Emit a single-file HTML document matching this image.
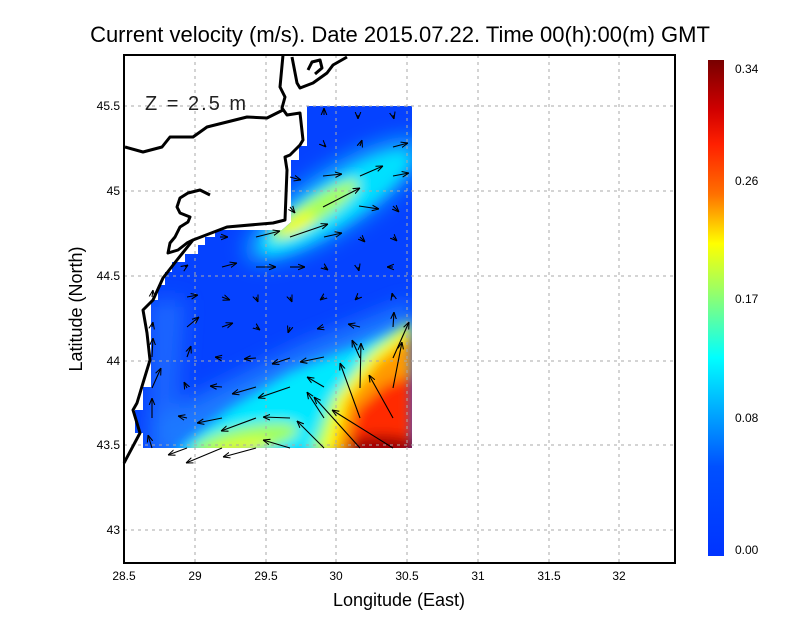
<!DOCTYPE html>
<html><head><style>
body{margin:0;background:#fff;}
svg{display:block;font-family:"Liberation Sans",sans-serif;}
</style></head><body>
<svg width="800" height="618" viewBox="0 0 800 618" xmlns="http://www.w3.org/2000/svg">
<defs>
<filter id="b1" x="-50%" y="-50%" width="200%" height="200%"><feGaussianBlur stdDeviation="10"/></filter>
<filter id="b2" x="-50%" y="-50%" width="200%" height="200%"><feGaussianBlur stdDeviation="6"/></filter>
<clipPath id="dc"><polygon points="307,106 412,106 412,448 143,448 143,433 135,433 135,410 143,410 143,387 151,387 151,300 158,300 158,285 165,285 165,272 172,272 172,262 185,262 185,254 198,254 198,245 205,245 205,237 215,237 215,230 282,230 291,222 291,160 299,160 299,146 307,146"/></clipPath>
<linearGradient id="cb" x1="0" y1="0" x2="0" y2="1">
<stop offset="0" stop-color="#780000"/><stop offset="0.1" stop-color="#d00000"/><stop offset="0.17" stop-color="#ff2000"/><stop offset="0.27" stop-color="#ff7000"/><stop offset="0.37" stop-color="#ffff00"/><stop offset="0.46" stop-color="#a0ff60"/><stop offset="0.6" stop-color="#00ffff"/><stop offset="0.72" stop-color="#00a0ff"/><stop offset="0.82" stop-color="#0050ff"/><stop offset="1" stop-color="#0033ff"/>
</linearGradient>
<marker id="ah" viewBox="0 0 10 10" refX="10" refY="5" markerWidth="7" markerHeight="7" orient="auto" markerUnits="userSpaceOnUse"><path d="M0,1 L10,5 L0,9" fill="none" stroke="#000" stroke-width="1.5"/></marker>
</defs>
<text x="400" y="42" text-anchor="middle" font-size="22">Current velocity (m/s). Date 2015.07.22. Time 00(h):00(m) GMT</text>
<g clip-path="url(#dc)">
<rect x="130" y="100" width="290" height="360" fill="#0542ff"/>
<g filter="url(#b1)">
<polygon points="150,300 185,300 175,450 150,450" fill="#2070ff" opacity="0.8"/>
<polygon points="150,455 150,420 230,380 300,345 412,300 412,455" fill="#1a78ff"/>
<ellipse cx="335" cy="200" rx="105" ry="32" transform="rotate(-33 335 200)" fill="#10a0ff"/>
</g>
<g filter="url(#b2)">
<polygon points="170,455 230,408 290,372 360,345 412,322 412,455" fill="#00e8ff"/>
<ellipse cx="335" cy="203" rx="88" ry="22" transform="rotate(-33 335 203)" fill="#00e0ff"/>
<ellipse cx="315" cy="210" rx="52" ry="12" transform="rotate(-33 315 210)" fill="#a8ff58"/>
<ellipse cx="297" cy="224" rx="20" ry="8" transform="rotate(-30 297 224)" fill="#f0ff10"/>
<ellipse cx="245" cy="440" rx="55" ry="14" transform="rotate(-12 245 440)" fill="#a0ff60"/>
<ellipse cx="240" cy="447" rx="30" ry="6" transform="rotate(-10 240 447)" fill="#e8ff20"/>
<polygon points="308,455 330,400 370,350 412,318 412,455" fill="#90ff70"/>
<polygon points="320,455 338,398 372,355 412,325 412,455" fill="#ffff00"/>
<polygon points="333,455 347,400 377,362 412,335 412,455" fill="#ff9a00"/>
<polygon points="345,455 357,410 385,385 412,375 412,455" fill="#ff2a00"/>
<ellipse cx="382" cy="447" rx="35" ry="12" fill="#a00000"/>
</g>
</g>
<g stroke="#aaa" stroke-width="1" stroke-dasharray="3,4">
<line x1="195" y1="55" x2="195" y2="563"/><line x1="266" y1="55" x2="266" y2="563"/><line x1="336" y1="55" x2="336" y2="563"/><line x1="407" y1="55" x2="407" y2="563"/><line x1="478" y1="55" x2="478" y2="563"/><line x1="549" y1="55" x2="549" y2="563"/><line x1="619" y1="55" x2="619" y2="563"/>
<line x1="124" y1="106" x2="675" y2="106"/><line x1="124" y1="191" x2="675" y2="191"/><line x1="124" y1="276" x2="675" y2="276"/><line x1="124" y1="361" x2="675" y2="361"/><line x1="124" y1="445" x2="675" y2="445"/><line x1="124" y1="530" x2="675" y2="530"/>
</g>
<g fill="none" stroke="#000" stroke-width="3" stroke-linejoin="round">
<polyline points="283,55 280,87 285,97 282,108 287,115 300,113 303,140 300,145 290,155 285,157 287,170 285,220 273,223 227,227 193,240 177,260 163,278 153,300 143,310 147,333 150,360 143,383 137,403 133,410 140,433 124,463"/>
<polyline points="283,110 267,118 247,117 227,122 207,127 193,137 170,137 162,147 143,152 125,147"/>
<polyline points="210,195 200,190 188,193 180,198 177,207 180,213 190,217 188,222 180,227 175,237 170,243 168,253 178,250 187,243 193,240"/>
<polyline points="292,57 297,83 300,88 313,83 327,73 333,65 347,57"/>
<polyline points="308,70 312,62 320,60 322,68 315,74"/>
</g>
<g stroke="#000" stroke-width="1.1" marker-end="url(#ah)">
<line x1="324" y1="115" x2="324" y2="108"/><line x1="358" y1="115" x2="358" y2="119"/><line x1="393" y1="115" x2="394" y2="119"/>
<line x1="324" y1="145" x2="326" y2="147"/><line x1="360" y1="146" x2="362" y2="140"/><line x1="393" y1="147" x2="408" y2="143"/>
<line x1="290" y1="177" x2="301" y2="180"/><line x1="323" y1="176" x2="342" y2="174"/><line x1="360" y1="176" x2="383" y2="166"/><line x1="393" y1="176" x2="409" y2="173"/>
<line x1="290" y1="207" x2="295" y2="213"/><line x1="323" y1="207" x2="360" y2="188"/><line x1="359" y1="206" x2="379" y2="209"/><line x1="393" y1="206" x2="399" y2="212"/>
<line x1="220" y1="237" x2="228" y2="237"/><line x1="256" y1="237" x2="280" y2="231"/><line x1="290" y1="237" x2="328" y2="224"/><line x1="324" y1="237" x2="342" y2="233"/><line x1="360" y1="237" x2="365" y2="242"/><line x1="393" y1="237" x2="397" y2="241"/>
<line x1="185" y1="267" x2="188" y2="265"/><line x1="222" y1="267" x2="237" y2="263"/><line x1="256" y1="267" x2="276" y2="267"/><line x1="290" y1="267" x2="305" y2="267"/><line x1="324" y1="267" x2="328" y2="270"/><line x1="358" y1="267" x2="359" y2="271"/><line x1="393" y1="267" x2="387" y2="267"/>
<line x1="152" y1="297" x2="153" y2="290"/><line x1="187" y1="297" x2="198" y2="295"/><line x1="222" y1="297" x2="230" y2="300"/><line x1="256" y1="297" x2="258" y2="302"/><line x1="290" y1="297" x2="292" y2="302"/><line x1="324" y1="297" x2="320" y2="300"/><line x1="358" y1="297" x2="355" y2="300"/><line x1="393" y1="297" x2="392" y2="293"/>
<line x1="152" y1="327" x2="153" y2="322"/><line x1="187" y1="327" x2="199" y2="317"/><line x1="222" y1="327" x2="233" y2="323"/><line x1="256" y1="327" x2="260" y2="330"/><line x1="290" y1="327" x2="288" y2="333"/><line x1="324" y1="327" x2="317" y2="329"/><line x1="360" y1="327" x2="348" y2="324"/><line x1="393" y1="327" x2="394" y2="312"/>
<line x1="152" y1="357" x2="153" y2="338"/><line x1="187" y1="357" x2="191" y2="346"/><line x1="222" y1="358" x2="215" y2="357"/><line x1="256" y1="358" x2="244" y2="359"/><line x1="290" y1="358" x2="272" y2="364"/><line x1="324" y1="357" x2="300" y2="362"/><line x1="360" y1="358" x2="352" y2="340"/><line x1="393" y1="358" x2="409" y2="322"/>
<line x1="152" y1="388" x2="161" y2="368"/><line x1="187" y1="388" x2="184" y2="382"/><line x1="222" y1="387" x2="210" y2="386"/><line x1="256" y1="387" x2="232" y2="394"/><line x1="290" y1="387" x2="258" y2="398"/><line x1="324" y1="387" x2="307" y2="377"/><line x1="360" y1="388" x2="361" y2="343"/><line x1="393" y1="388" x2="402" y2="342"/>
<line x1="152" y1="418" x2="152" y2="398"/><line x1="187" y1="418" x2="178" y2="416"/><line x1="222" y1="418" x2="197" y2="423"/><line x1="256" y1="418" x2="221" y2="431"/><line x1="290" y1="418" x2="263" y2="417"/><line x1="324" y1="418" x2="307" y2="392"/><line x1="360" y1="418" x2="340" y2="363"/><line x1="393" y1="418" x2="369" y2="375"/>
<line x1="152" y1="448" x2="148" y2="435"/><line x1="187" y1="448" x2="168" y2="455"/><line x1="222" y1="448" x2="186" y2="463"/><line x1="256" y1="448" x2="223" y2="457"/><line x1="290" y1="448" x2="263" y2="440"/><line x1="324" y1="448" x2="297" y2="421"/><line x1="360" y1="448" x2="314" y2="397"/><line x1="393" y1="448" x2="332" y2="410"/>
</g>
<text x="145" y="110" font-size="20" fill="#222" letter-spacing="2">Z = 2.5 m</text>
<rect x="124" y="55" width="551" height="508" fill="none" stroke="#000" stroke-width="2"/>
<g font-size="12" text-anchor="middle">
<text x="124" y="580">28.5</text><text x="195" y="580">29</text><text x="266" y="580">29.5</text><text x="336" y="580">30</text><text x="407" y="580">30.5</text><text x="478" y="580">31</text><text x="549" y="580">31.5</text><text x="619" y="580">32</text>
</g>
<g font-size="12" text-anchor="end">
<text x="120" y="110">45.5</text><text x="120" y="195">45</text><text x="120" y="280">44.5</text><text x="120" y="365">44</text><text x="120" y="449">43.5</text><text x="120" y="534">43</text>
</g>
<text x="399" y="606" text-anchor="middle" font-size="18">Longitude (East)</text>
<text transform="translate(82,309) rotate(-90)" text-anchor="middle" font-size="18">Latitude (North)</text>
<rect x="708" y="60" width="16" height="496" fill="url(#cb)"/>
<g font-size="12">
<text x="735" y="73">0.34</text><text x="735" y="185">0.26</text><text x="735" y="303">0.17</text><text x="735" y="422">0.08</text><text x="735" y="554">0.00</text>
</g>
</svg>
</body></html>
